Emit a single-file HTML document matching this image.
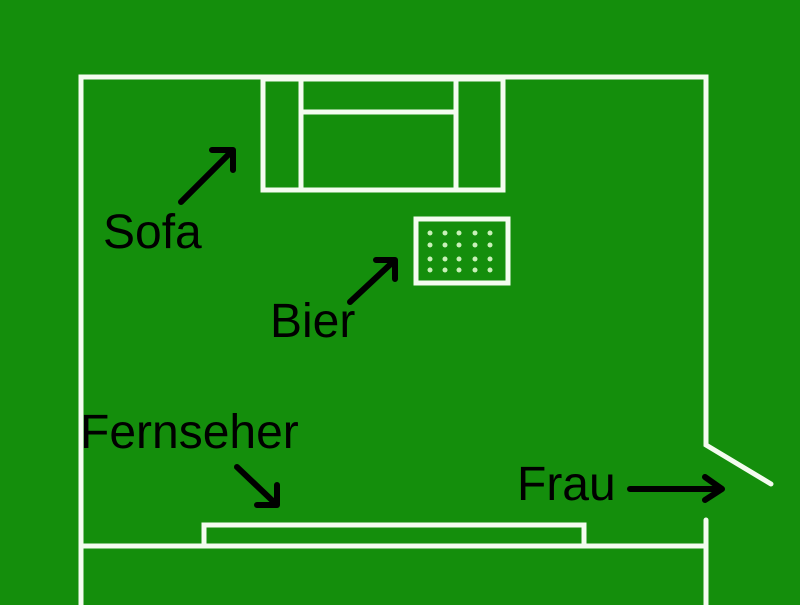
<!DOCTYPE html>
<html><head><style>
html,body{margin:0;padding:0;background:#148e0c;}
svg{display:block}
text{font-family:"Liberation Sans",sans-serif;font-size:48px;fill:#000}
</style></head><body>
<svg width="800" height="605" viewBox="0 0 800 605">
<rect width="800" height="605" fill="#148e0c"/>
<g stroke="#f4fcf0" stroke-width="5" fill="none" stroke-linecap="round">
<path d="M81 605 V77 H706 V445 L771 484"/>
<path d="M706 520 V605"/>
<path d="M81 546 H706"/>
<path d="M204 546 V525 H584 V546"/>
<rect x="263" y="79" width="240" height="111"/>
<path d="M301 79 V190 M456 79 V190 M301 112 H456"/>
<rect x="416" y="219" width="92" height="64"/>
</g>
<g fill="#c8f0b8">
<circle cx="430" cy="233" r="2.5"/><circle cx="445" cy="233" r="2.5"/><circle cx="459" cy="233" r="2.5"/><circle cx="475" cy="233" r="2.5"/><circle cx="490" cy="233" r="2.5"/>
<circle cx="430" cy="245" r="2.5"/><circle cx="445" cy="245" r="2.5"/><circle cx="459" cy="245" r="2.5"/><circle cx="475" cy="245" r="2.5"/><circle cx="490" cy="245" r="2.5"/>
<circle cx="430" cy="259" r="2.5"/><circle cx="445" cy="259" r="2.5"/><circle cx="459" cy="259" r="2.5"/><circle cx="475" cy="259" r="2.5"/><circle cx="490" cy="259" r="2.5"/>
<circle cx="430" cy="270" r="2.5"/><circle cx="445" cy="270" r="2.5"/><circle cx="459" cy="270" r="2.5"/><circle cx="475" cy="270" r="2.5"/><circle cx="490" cy="270" r="2.5"/>
</g>
<g stroke="#000" stroke-width="6" fill="none" stroke-linecap="round" stroke-linejoin="round">
<path d="M181 202 L233 150 M212 150 H233 V170"/>
<path d="M350 302 L395 260 M376 260 H395 V279"/>
<path d="M237 467 L277 505 M277 485 V505 H257"/>
<path d="M630 489 H722 M705 477 L722 489 L705 500"/>
</g>
<text x="103" y="248">Sofa</text>
<text x="270" y="337">Bier</text>
<text x="80" y="448">Fernseher</text>
<text x="517" y="500">Frau</text>
</svg>
</body></html>
